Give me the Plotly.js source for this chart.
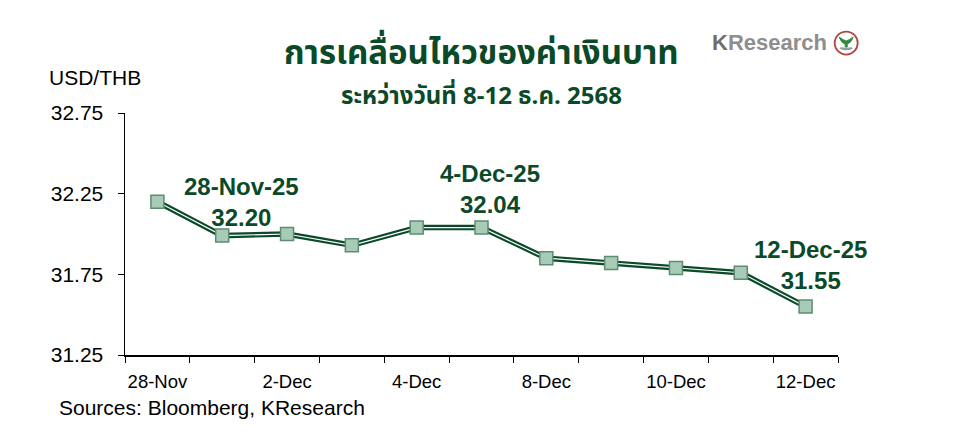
<!DOCTYPE html>
<html>
<head>
<meta charset="utf-8">
<script src="https://cdn.plot.ly/plotly-3.0.1.min.js"></script>
<style>html,body{margin:0;padding:0;background:#fff;}#chart{width:955px;height:437px;}</style>
</head>
<body>
<div id="chart"></div>
<script>
const categories = ["28-Nov","1-Dec","2-Dec","3-Dec","4-Dec","5-Dec","8-Dec","9-Dec","10-Dec","11-Dec","12-Dec"];
const usdthb = [32.20, 31.99, 32.00, 31.93, 32.04, 32.04, 31.85, 31.82, 31.79, 31.76, 31.55];
const tickLabels = ["28-Nov","","2-Dec","","4-Dec","","8-Dec","","10-Dec","","12-Dec"];
const yTicks = [31.25, 31.75, 32.25, 32.75];

const green = "#0b4a29";
const font = "Liberation Sans, Arial, sans-serif";
const thaiFont = "Noto Sans Thai, Noto Sans, Tahoma, sans-serif";

const traces = [
  {x: categories, y: usdthb, type: "scatter", mode: "lines",
   line: {color: green, width: 5.5}, hoverinfo: "skip", showlegend: false},
  {x: categories, y: usdthb, type: "scatter", mode: "lines+markers",
   line: {color: "#ffffff", width: 1.2},
   marker: {symbol: "square", size: 13, color: "#a8cbb7", line: {color: "#5d8c70", width: 1.5}},
   showlegend: false}
];

const annStyle = {size: 24, color: green, family: font};
const layout = {
  width: 955, height: 437,
  margin: {l: 125, r: 117, t: 113, b: 82},
  paper_bgcolor: "#fff", plot_bgcolor: "#fff",
  showlegend: false,
  xaxis: {
    type: "category", range: [-0.5, 10.5],
    tickmode: "array", tickvals: categories, ticktext: tickLabels,
    tickson: "boundaries", ticks: "outside", ticklen: 6, tickcolor: "#000", tickwidth: 1,
    tickangle: 0, ticklabelstandoff: 9,
    showline: true, linecolor: "#000", linewidth: 1.5, showgrid: false, zeroline: false,
    tickfont: {family: font, size: 18.5, color: "#000"}
  },
  yaxis: {
    range: [31.25, 32.75], tickmode: "array", tickvals: yTicks,
    ticktext: yTicks.map(v => v.toFixed(2)),
    ticks: "outside", ticklen: 6, tickcolor: "#000", tickwidth: 1,
    ticklabelstandoff: 10,
    showline: true, linecolor: "#000", linewidth: 1.5, showgrid: false, zeroline: false,
    tickfont: {family: font, size: 21, color: "#000"}
  },
  annotations: [
    {xref: "paper", yref: "paper", x: 0.5, y: 1.243, xanchor: "center", yanchor: "middle",
     text: "<b>การเคลื่อนไหวของค่าเงินบาท</b>", showarrow: false,
     font: {family: thaiFont, size: 33, color: green}},
    {xref: "paper", yref: "paper", x: 0.5, y: 1.068, xanchor: "center", yanchor: "middle",
     text: "<b>ระหว่างวันที่ 8-12 ธ.ค. 2568</b>", showarrow: false,
     font: {family: thaiFont, size: 24, color: green}},
    {xref: "paper", yref: "paper", x: -0.11, y: 1.148, xanchor: "left", yanchor: "middle",
     text: "USD/THB", showarrow: false, font: {family: font, size: 21, color: "#000"}},
    {xref: "paper", yref: "paper", x: -0.096, y: -0.218, xanchor: "left", yanchor: "middle",
     text: "Sources: Bloomberg, KResearch", showarrow: false, font: {family: font, size: 21, color: "#000"}},
    {xref: "paper", yref: "paper", x: 0.163, y: 0.632, xanchor: "center", yanchor: "middle",
     text: "<b>28-Nov-25<br>32.20</b>", showarrow: false, font: annStyle},
    {xref: "paper", yref: "paper", x: 0.512, y: 0.686, xanchor: "center", yanchor: "middle",
     text: "<b>4-Dec-25<br>32.04</b>", showarrow: false, font: annStyle},
    {xref: "paper", yref: "paper", x: 0.962, y: 0.372, xanchor: "center", yanchor: "middle",
     text: "<b>12-Dec-25<br>31.55</b>", showarrow: false, font: annStyle},
    {xref: "paper", yref: "paper", x: 0.82, y: 1.29, xanchor: "left", yanchor: "middle",
     text: "<b><span style=\"color:#6e6e6e\">K</span>Research</b>", showarrow: false,
     font: {family: font, size: 22, color: "#8e8e8e"}}
  ],
  shapes: [
    {type: "circle", xref: "paper", yref: "paper", xsizemode: "pixel", ysizemode: "pixel",
     xanchor: 1.0115, yanchor: 1.289, x0: -11.5, x1: 11.5, y0: -11.5, y1: 11.5,
     line: {color: "#b0473e", width: 1.8}, fillcolor: "#fff"},
    {type: "path", xref: "paper", yref: "paper", xsizemode: "pixel", ysizemode: "pixel",
     xanchor: 1.0115, yanchor: 1.289,
     path: "M -7 6 Q -5 0 -1 -1 L -1 -4 L 1 -4 L 1 -1 Q 5 0 7 6 Q 3 3 0 2 Q -3 3 -7 6 Z",
     line: {color: "#2e8b3e", width: 1}, fillcolor: "#2e8b3e"},
    {type: "path", xref: "paper", yref: "paper", xsizemode: "pixel", ysizemode: "pixel",
     xanchor: 1.0115, yanchor: 1.289,
     path: "M -6 -5 Q 0 -8 6 -5 Q 0 -6 -6 -5 Z",
     line: {color: "#9a9a9a", width: 1.5}, fillcolor: "#9a9a9a"}
  ]
};

Plotly.newPlot("chart", traces, layout, {displayModeBar: false, staticPlot: true});
</script>
</body>
</html>
